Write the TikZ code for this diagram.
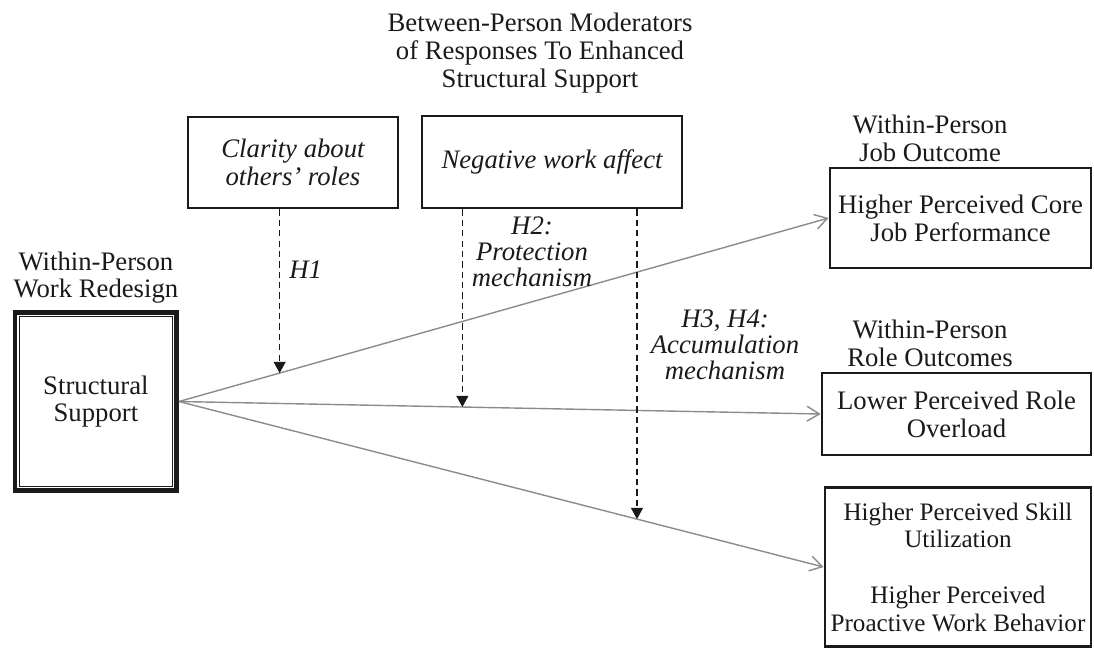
\documentclass[tikz,border=0pt]{standalone}
\usepackage{fontspec}
\setmainfont{Liberation Serif}
\usetikzlibrary{arrows.meta,positioning}
\definecolor{ink}{HTML}{1A1A1A}
\definecolor{wire}{HTML}{8C8C8C}
\tikzset{
	x=0.02cm, y=-0.02cm,
	every node/.style={font=\fontsize{15.2}{15.8}\selectfont, text=ink, align=center, inner sep=0pt},
	box/.style={draw=ink, line width=1.6pt},
	hyp/.style={font=\fontsize{15.2}{14.8}\selectfont\itshape},
	effect/.style={draw=wire, line width=0.8pt, -{Straight Barb[length=7pt,width=8.5pt]}},
	moderate/.style={draw=ink, line width=0.8pt, dash pattern=on 3.6pt off 2.3pt, -{Triangle[length=6.4pt,width=6.8pt]}},
}
\begin{document}
\begin{tikzpicture}
	\useasboundingbox (0,0) rectangle (1094,650);

	% moderators
	\node (title) at (540,53) {Between-Person Moderators\\of Responses To Enhanced\\Structural Support};
	\node[box, minimum width=4.2cm, minimum height=1.82cm, font=\fontsize{15.2}{15.8}\selectfont\itshape] (clarity) at (293,162.5) {Clarity about\\others' roles};
	\node[box, minimum width=5.2cm, minimum height=1.84cm, font=\fontsize{15.2}{15.8}\selectfont\itshape] (affect) at (552,162) {Negative work affect};

	% work redesign
	\node[draw=ink, line width=2.9pt, minimum width=3.22cm, minimum height=3.56cm] (support) at (95.9,401.5) {Structural\\Support};
	\draw[ink, line width=0.5pt, double=white, double distance=0.8pt]
		([shift={(5.3,5.3)}]support.north west) rectangle ([shift={(-5.3,-5.3)}]support.south east);
	\node[above=0.12cm of support] (redesign) {Within-Person\\Work Redesign};

	% outcomes
	\node[box, minimum width=5.22cm, minimum height=2cm] (job) at (960.5,218) {Higher Perceived Core\\Job Performance};
	\node[box, minimum width=5.38cm, minimum height=1.64cm] (role) at (956.5,414) {Lower Perceived Role\\Overload};
	\node[box, minimum width=5.32cm, minimum height=3.18cm, font=\fontsize{14.3}{15.8}\selectfont] (skill) at (958,567) {Higher Perceived Skill\\Utilization\\[15.8pt]Higher Perceived\\Proactive Work Behavior};
	\node[anchor=south] (joblabel) at ([yshift=0.1cm]job.north -| 930,0) {Within-Person\\Job Outcome};
	\node[anchor=south] (rolelabel) at ([yshift=0.1cm]role.north -| 930,0) {Within-Person\\Role Outcomes};

	% main effects
	\draw[effect] (support.east) -- (job.west) coordinate[pos=0.155] (m1);
	\draw[effect] (support.east) -- (role.west) coordinate[pos=0.4417] (m2);
	\draw[effect] (support.east) -- (skill.west) coordinate[pos=0.7105] (m3);

	% moderation
	\draw[moderate] (m1 |- clarity.south) -- (m1);
	\draw[moderate] (m2 |- affect.south) -- (m2);
	\draw[moderate] (m3 |- affect.south) -- (m3);
	\node[hyp, anchor=west] (h1) at (289,270) {H1};
	\node[hyp] (h2) at (532,252) {H2:\\Protection\\mechanism};
	\node[hyp] (h3) at (725,345) {H3, H4:\\Accumulation\\mechanism};
\end{tikzpicture}
\end{document}
